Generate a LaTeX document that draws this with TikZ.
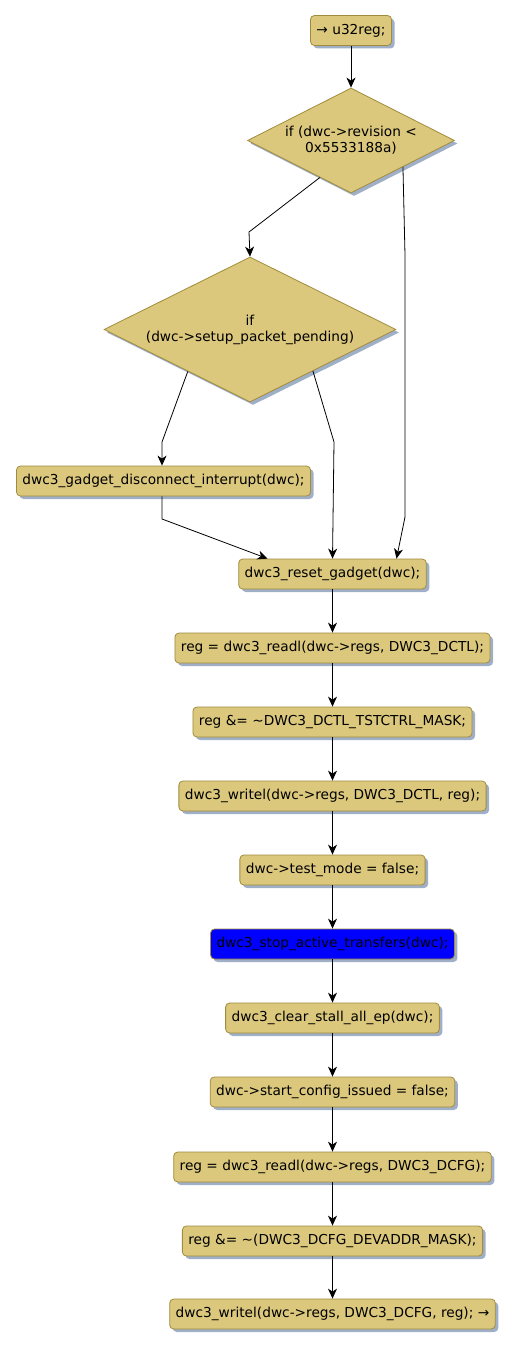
\documentclass[tikz,border=0pt]{standalone}
\usepackage{fontspec}
\setmainfont{DejaVu Sans}
\usetikzlibrary{shapes.geometric,shadows,arrows.meta,calc}
\definecolor{boxfill}{RGB}{219,200,125}
\definecolor{boxline}{RGB}{160,140,60}
\definecolor{shadowc}{RGB}{160,175,200}
\definecolor{bluefill}{RGB}{0,0,255}
\tikzset{
  act/.style={draw=boxline, fill=boxfill, line width=0.8pt, rounded corners=4pt,
    minimum height=30pt, inner xsep=6pt, inner ysep=0pt, font=\fontsize{13.7}{16}\selectfont,
    drop shadow={shadow xshift=3pt, shadow yshift=-3pt, fill=shadowc, opacity=1}},
  actblue/.style={act, fill=bluefill},
  dia/.style={diamond, draw=boxline, fill=boxfill, line width=0.8pt, inner sep=0pt,
    drop shadow={shadow xshift=3pt, shadow yshift=-3pt, fill=shadowc, opacity=1}},
  dtext/.style={align=center, font=\fontsize{13.7}{16}\selectfont, inner sep=0pt},
  flow/.style={draw=black, line width=0.8pt, -{Stealth[length=10pt,width=9pt,inset=3pt]}},
}
\begin{document}
\begin{tikzpicture}[x=1pt,y=-1pt]
\useasboundingbox (0,0) rectangle (514,1348);
\node[act] (b1) at (351,30.5) {→ u32reg;};
\node[dia, minimum width=207pt, minimum height=105pt] (d1) at (351,140.5) {};
\node[dtext] (t1) at (d1.center) {if (dwc->revision <\\0x5533188a)};
\node[dia, minimum width=292pt, minimum height=145pt] (d2) at (250,329.5) {};
\node[dtext] (t2) at (d2.center) {if\\(dwc->setup\_packet\_pending)};
\node[act] (dis) at (163.5,481) {dwc3\_gadget\_disconnect\_interrupt(dwc);};
\node[act] (reset) at (332.5,574) {dwc3\_reset\_gadget(dwc);};
\node[act] (r1) at (332.5,648) {reg = dwc3\_readl(dwc->regs, DWC3\_DCTL);};
\node[act] (r2) at (332.5,722) {reg \&= \textasciitilde DWC3\_DCTL\_TSTCTRL\_MASK;};
\node[act] (r3) at (332.5,796) {dwc3\_writel(dwc->regs, DWC3\_DCTL, reg);};
\node[act] (r4) at (332.5,870) {dwc->test\_mode = false;};
\node[actblue] (r5) at (332.5,944) {dwc3\_stop\_active\_transfers(dwc);};
\node[act] (r6) at (332.5,1018) {dwc3\_clear\_stall\_all\_ep(dwc);};
\node[act] (r7) at (332.5,1092) {dwc->start\_config\_issued = false;};
\node[act] (r8) at (332.5,1167) {reg = dwc3\_readl(dwc->regs, DWC3\_DCFG);};
\node[act] (r9) at (332.5,1241) {reg \&= \textasciitilde(DWC3\_DCFG\_DEVADDR\_MASK);};
\node[act] (r10) at (332.5,1314) {dwc3\_writel(dwc->regs, DWC3\_DCFG, reg); →};
% connectors
\draw[flow] (b1.south) -- (d1.north);
\draw[flow] ($(d1.west)!0.7!(d1.south)$) -- (249,232) -- (d2.north);
\draw[flow] ($(d1.south)!0.5!(d1.east)$) -- (405,255) -- (405,517) -- ([xshift=64pt]reset.north);
\draw[flow] ($(d2.west)!0.575!(d2.south)$) -- (162,442) -- (dis.north -| 162,0);
\draw[flow] ($(d2.south)!0.43!(d2.east)$) -- (334,442) -- (reset.north);
\draw[flow] (dis.south -| 162,0) -- (162,519) -- ([xshift=-65pt]reset.north);
\draw[flow] (reset.south) -- (r1.north);
\draw[flow] (r1.south) -- (r2.north);
\draw[flow] (r2.south) -- (r3.north);
\draw[flow] (r3.south) -- (r4.north);
\draw[flow] (r4.south) -- (r5.north);
\draw[flow] (r5.south) -- (r6.north);
\draw[flow] (r6.south) -- (r7.north);
\draw[flow] (r7.south) -- (r8.north);
\draw[flow] (r8.south) -- (r9.north);
\draw[flow] (r9.south) -- (r10.north);
\end{tikzpicture}
\end{document}
